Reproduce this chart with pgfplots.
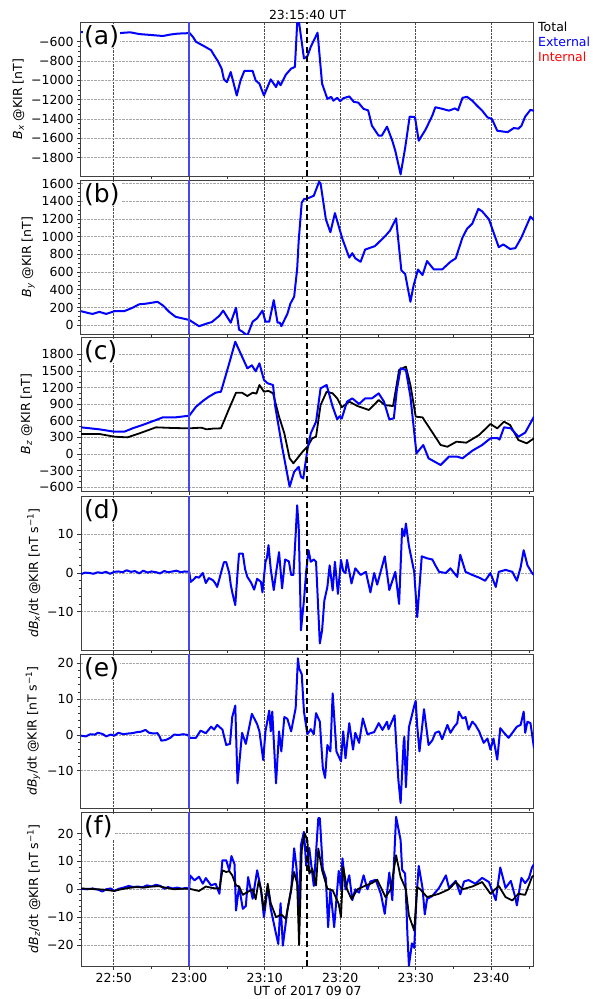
\documentclass[border=0pt]{standalone}
\usepackage{fontspec}
\setmainfont{DejaVu Sans}
\usepackage{pgfplots}
\pgfplotsset{compat=1.18}

\definecolor{extblue}{RGB}{0,0,255}
\definecolor{vblue}{RGB}{70,70,240}
\definecolor{intred}{RGB}{255,0,0}

\newcommand{\lbl}{\fontsize{12.5}{14}\selectfont}

\pgfplotsset{
  panel/.style={
    scale only axis, width=453pt, height=154pt,
    anchor=north west,
    xmin=45.667, xmax=105.667,
    xtick={50,60,70,80,90,100},
    minor xtick={55,65,75,85,95,105},
    xticklabels={},
    xtick pos=bottom, ytick pos=left, tick align=outside,
    major tick length=4pt, minor tick length=2.5pt,
    tick style={black!80, line width=0.8pt},
    axis line style={black!75, line width=1pt},
    xmajorgrids, ymajorgrids,
    x grid style={densely dotted, black!70, line width=0.7pt},
    y grid style={densely dotted, black!35, line width=0.8pt},
    tick label style={font=\lbl},
    label style={font=\lbl},
    clip mode=individual,
    /pgf/number format/1000 sep={},
    /pgf/number format/assume math mode=true,
  },
  ext/.style={extblue, line width=2pt, line join=round},
  tot/.style={black, line width=1.8pt, line join=round},
}

% panel tag, marker lines
\newcommand{\tag}[1]{%
  \node[anchor=north west, fill=white, inner sep=1pt, font=\fontsize{25}{25}\selectfont]
    at ([xshift=2pt,yshift=-2pt]rel axis cs:0,1) {#1};}
\newcommand{\vblueline}{\draw[color=vblue, line width=1.6pt] (axis cs:60,\pgfkeysvalueof{/pgfplots/ymin}) -- (axis cs:60,\pgfkeysvalueof{/pgfplots/ymax});}
\newcommand{\dashline}{\draw[black, line width=2pt, dash pattern=on 6pt off 3.5pt] (rel axis cs:0.5,0) -- (rel axis cs:0.5,1);}

\begin{document}
\begin{tikzpicture}
\path[use as bounding box] (0,0) rectangle (593pt,-999pt);

% (a) Bx
\begin{axis}[panel, at={(81pt,-22pt)},
  ymin=-1990, ymax=-395,
  ytick={-1800,-1600,-1400,-1200,-1000,-800,-600},
  yticklabels={−1800,−1600,−1400,−1200,−1000,−800,−600},
  minor y tick num=3,
  ylabel={{\itshape B}\textsubscript{\itshape x} @KIR [nT]}]
\addplot[ext] coordinates {
(45.67,-500) (47,-505) (48.5,-510) (50.6,-512) (51.5,-505) (52.2,-502) (53.4,-520) (55,-530) (56.5,-540)
(57.5,-525) (58.5,-515) (59.6,-512) (60,-505) (60.5,-550) (60.9,-600) (61.7,-634) (62.3,-660) (62.9,-687)
(63.3,-740) (63.8,-800) (64.3,-880) (64.6,-990) (65.0,-1017) (65.5,-913) (66.3,-1156) (66.8,-1000)
(67.3,-902) (68.4,-902) (68.8,-1000) (69.3,-1034) (69.9,-1156) (70.8,-989) (71.5,-1069) (71.8,-1010)
(72.1,-1050) (72.8,-940) (73.5,-878) (74.0,-860) (74.3,-408) (74.55,-400) (75.2,-773) (75.65,-750)
(76.1,-652) (77.0,-506) (77.6,-1034) (78.3,-1191) (78.8,-1170) (79.1,-1210) (79.6,-1180) (80.0,-1215)
(80.4,-1185) (81.2,-1166) (81.8,-1222) (82.4,-1230) (83.1,-1295) (83.7,-1310) (84.2,-1469) (85.1,-1573)
(85.5,-1573) (86.2,-1479) (86.9,-1625) (87.3,-1730) (88.0,-1973) (88.6,-1700) (89.2,-1375) (89.9,-1380)
(90.4,-1625) (91.3,-1510) (92.2,-1364) (92.6,-1278) (93.3,-1290) (94.4,-1313) (95.2,-1290) (95.6,-1310)
(96.2,-1180) (96.8,-1170) (97.5,-1210) (98.1,-1260) (98.8,-1313) (99.5,-1382) (100.1,-1400) (100.8,-1521)
(101.7,-1531) (102.2,-1535) (103.0,-1493) (103.6,-1500) (104.0,-1470) (104.5,-1375) (105.2,-1305) (105.67,-1315)
};
\vblueline
\dashline
\tag{(a)}
\node[font=\lbl] at ([yshift=7pt]rel axis cs:0.5,1) {23:15:40 UT};
\node[font=\lbl, anchor=west, inner sep=0pt, text=black] at ([xshift=4pt,yshift=-5pt]rel axis cs:1,1) {Total};
\node[font=\lbl, anchor=west, inner sep=0pt, text=extblue] at ([xshift=4pt,yshift=-20pt]rel axis cs:1,1) {External};
\node[font=\lbl, anchor=west, inner sep=0pt, text=intred] at ([xshift=4pt,yshift=-35pt]rel axis cs:1,1) {Internal};
\end{axis}

% (b) By
\begin{axis}[panel, at={(81pt,-180pt)},
  ymin=-100, ymax=1640,
  ytick={0,200,400,600,800,1000,1200,1400,1600},
  yticklabels={0,200,400,600,800,1000,1200,1400,1600},
  minor y tick num=3,
  ylabel={{\itshape B}\textsubscript{\itshape y} @KIR [nT]}]
\addplot[ext] coordinates {
(45.67,158) (46.8,134) (47.2,127) (48.1,150) (49.0,127) (50.1,158) (51.4,158) (52.5,197) (53.4,236)
(54.3,243) (55.8,264) (56.5,224) (57.4,146) (58.2,94) (60,59) (61.3,-12) (62.4,20) (63.0,35) (64.0,106)
(64.5,165) (65.5,28) (66.2,197) (66.6,-51) (67.0,-71) (67.7,-118) (68.4,39) (69.0,78) (69.7,165)
(70.1,39) (70.6,39) (71.2,283) (71.7,28) (72.0,28) (72.2,-12) (73.0,127) (73.4,243) (73.9,322)
(74.3,637) (74.5,952) (74.9,1384) (75.2,1423) (75.65,1431) (76.5,1462) (77.2,1620) (77.4,1600)
(78.1,1196) (78.7,1050) (79.3,1266) (80.3,972) (81.2,763) (81.6,813) (82.0,755) (82.7,716) (83.3,854)
(84.6,893) (86.0,1010) (86.6,1069) (87.4,1207) (88.1,618) (88.6,579) (89.3,264) (89.7,441) (90.3,629)
(90.9,566) (91.5,724) (92.4,629) (93.5,629) (94.6,716) (95.3,755) (96.2,991) (96.8,1089) (97.5,1148)
(98.3,1314) (98.8,1286) (99.7,1196) (100.3,1050) (101.0,881) (101.6,912) (102.5,861) (103.2,870)
(104.0,991) (104.5,1089) (105.2,1226) (105.67,1186)
};
\vblueline
\dashline
\tag{(b)}
\end{axis}

% (c) Bz
\begin{axis}[panel, at={(81pt,-337pt)},
  ymin=-667, ymax=2112,
  ytick={-600,-300,0,300,600,900,1200,1500,1800},
  yticklabels={−600,−300,0,300,600,900,1200,1500,1800},
  minor y tick num=2,
  ylabel={{\itshape B}\textsubscript{\itshape z} @KIR [nT]}]
\addplot[tot] coordinates {
(45.67,362) (48.1,362) (50.1,313) (51.8,301) (53.4,373) (55.6,482) (57.8,470) (60,464) (61.6,476)
(62.3,446) (63.2,460) (64.2,464) (65.3,825) (66.2,1107) (67.0,1107) (67.7,1047) (68.4,1107) (68.9,1090)
(69.3,1246) (69.9,1125) (70.5,1140) (71.1,1095) (71.9,674) (72.6,374) (73.3,-77) (73.8,-167) (74.5,-47)
(75.0,40) (75.65,132) (76.3,284) (76.8,314) (77.4,884) (78.2,1125) (79.0,1095) (79.6,1005) (80.2,843)
(81.2,945) (82.3,866) (83.8,795) (85.1,975) (85.9,884) (87.0,866) (87.8,1517) (88.7,1577) (89.3,1246)
(90.0,674) (90.9,662) (92.0,434) (93.3,163) (94.2,132) (95.4,223) (96.7,205) (98.4,344) (99.9,542)
(100.8,464) (101.7,584) (102.5,524) (103.6,253) (104.7,193) (105.67,284)
};
\addplot[ext] coordinates {
(45.67,482) (48.1,446) (50.1,403) (51.4,403) (52.5,464) (53.8,524) (55.6,614) (56.5,662) (58.2,662)
(60,692) (60.9,854) (61.8,957) (62.6,1035) (63.5,1107) (64.2,1125) (64.4,1215) (65.3,1637) (66.1,2027)
(66.6,1878) (67.7,1547) (68.3,1601) (68.8,1493) (69.3,1637) (69.9,1336) (70.4,1276) (71.1,1246)
(71.4,854) (72.3,132) (73.3,-590) (73.9,-320) (74.5,-230) (74.8,-409) (75.1,-440) (75.65,73) (76.1,374)
(76.8,584) (77.4,1186) (78.2,1246) (79.0,854) (79.6,626) (79.9,680) (80.2,640) (80.9,945) (81.6,1005)
(82.5,903) (83.3,1005) (84.2,1005) (85.1,1095) (85.8,945) (86.5,626) (87.1,644) (87.5,1156) (88.0,1547)
(88.7,1517) (89.3,1035) (90.1,13) (91.0,163) (91.7,-77) (93.3,-198) (94.4,-47) (95.5,-47) (96.2,-77)
(97.5,60) (98.8,163) (99.9,284) (100.8,290) (101.1,260) (101.7,482) (102.6,464) (103.6,313) (104.5,386)
(105.67,674)
};
\vblueline
\dashline
\tag{(c)}
\end{axis}

% (d) dBx/dt
\begin{axis}[panel, at={(81pt,-496pt)},
  ymin=-19.9, ymax=19.9,
  ytick={-10,0,10}, yticklabels={−10,0,10},
  minor y tick num=4,
  ylabel={{\itshape dB}\textsubscript{\itshape x}/dt @KIR [nT s\textsuperscript{−1}]}]
\addplot[ext] coordinates {
(45.67,-0.3) (46.2,0.1) (46.8,0) (47.3,-0.2) (47.9,0.2) (48.4,0) (49.0,0.3) (49.5,-0.2) (50.1,0.3)
(50.6,0.4) (51.2,0.2) (51.7,0.7) (52.3,0.3) (52.8,0.5) (53.4,-0.1) (53.9,0.6) (54.5,0.1) (55.0,0.4)
(55.6,0.2) (56.1,-0.1) (56.7,0.5) (57.2,0.2) (57.8,0.4) (58.3,0.6) (58.9,0.2) (59.4,0.4) (60.0,0.3)
(60.2,-2.3) (60.5,-1.8) (60.9,-1.0) (61.3,-1.2) (61.8,0) (62.2,-2.6) (62.6,-1.3) (63.1,-1.8) (63.4,-2.5)
(63.7,-3.6) (64.0,-1.5) (64.2,0) (64.6,2.8) (64.9,2.8) (65.3,0) (65.5,-3) (65.7,-5) (66.1,-8.3) (66.4,0)
(66.6,5) (67.1,5) (67.4,1) (67.7,-1) (68.2,-2.5) (68.6,-4.3) (69.0,-1.5) (69.5,-2.3) (69.7,-5) (70.1,2.8)
(70.3,4) (70.5,7.2) (70.8,1.0) (71.2,-4.4) (71.5,0) (71.9,5.4) (72.3,-4) (72.7,3.5) (73.2,3) (73.5,-0.5)
(73.8,-0.5) (74.1,10) (74.3,17.5) (74.5,12) (74.7,-5) (74.8,-14.8) (75.2,-7) (75.5,0.5) (75.8,5.9)
(76.1,2.9) (76.5,3.5) (76.8,2.9) (77.3,-18.2) (77.6,-14.8) (77.9,-7.1) (78.3,-3.6) (78.6,2) (79.0,-4.5)
(79.3,2.9) (79.7,-5.4) (80.1,3.4) (80.4,0.5) (80.7,0) (80.9,3.4) (81.5,-2.7) (82.0,1.2) (82.7,-0.5)
(83.4,0.3) (84.0,-5) (84.5,0) (84.9,-3) (85.9,4.3) (86.5,-4.4) (87.3,0.3) (87.8,-8) (88.2,11.5)
(88.5,9.5) (88.7,12.8) (89.1,7) (89.8,0.3) (90.2,-11.4) (90.8,4.3) (91.5,3.8) (92.2,3.5) (92.6,2)
(93.1,0.3) (94.0,0) (94.6,1.2) (95.5,-1) (95.9,4.7) (96.6,0.3) (97.5,-0.5) (98.4,-1.2) (99.2,-2)
(99.9,0) (100.6,-3.6) (101.0,0.3) (101.9,0.8) (102.8,0.3) (103.4,-2) (103.9,1.5) (104.3,5.9)
(104.8,2) (105.4,0) (105.67,-0.5)
};
\vblueline
\dashline
\tag{(d)}
\end{axis}

% (e) dBy/dt
\begin{axis}[panel, at={(81pt,-654pt)},
  ymin=-20.4, ymax=22.6,
  ytick={-10,0,10,20}, yticklabels={−10,0,10,20},
  minor y tick num=4,
  ylabel={{\itshape dB}\textsubscript{\itshape y}/dt @KIR [nT s\textsuperscript{−1}]}]
\addplot[ext] coordinates {
(45.67,-0.2) (46.3,-0.4) (46.9,0.2) (47.5,0.1) (47.9,0.6) (48.5,0.3) (49.0,-0.4) (49.6,0.1) (50.1,-0.2)
(50.6,0.6) (51.3,0.2) (51.9,0.4) (52.5,0.5) (53.1,0.8) (53.6,0.9) (54.2,1.4) (54.7,0.6) (55.3,0.4)
(55.8,0.5) (56.1,-0.5) (56.3,-1.6) (56.9,-1.4) (57.5,-0.8) (58.0,0.1) (58.6,0) (59.2,0.2) (59.8,0)
(60.1,-0.8) (60.9,-0.8) (61.5,1.2) (62.2,0.5) (62.9,2.3) (63.3,1.5) (63.7,2.8) (64.4,1.5) (64.9,-2.8)
(65.4,-2.5) (65.7,5) (66.1,8.2) (66.4,-13.5) (67.0,0.6) (67.5,-2.5) (68.3,5.9) (69.0,3) (69.3,1)
(69.8,-7) (70.1,1) (70.6,6.8) (70.8,1) (71.0,6.5) (71.5,-13.5) (71.9,1) (72.2,-4.6) (72.6,5) (73.0,4.5)
(73.5,1) (74.1,7.5) (74.4,21.4) (74.55,18.6) (74.9,17) (75.2,6.5) (75.65,0.2) (76.1,1.6) (76.5,0.2)
(76.8,6.1) (77.3,3.7) (77.7,-9.3) (78.0,-12) (78.3,-2.8) (78.7,-4.6) (79.0,11.6) (79.5,-4.6) (80.1,-7.4)
(80.4,1) (80.7,-6.5) (81.2,3.3) (81.7,-4.1) (82.0,0.6) (82.5,-2.2) (83.0,4.6) (83.6,0.2) (84.5,0.8)
(85.1,3.3) (85.6,1.4) (86.2,3.7) (86.4,1.6) (87.2,5.5) (87.7,-12.5) (88.0,-19) (88.4,-2) (88.5,-0.5)
(88.7,-14.6) (89.1,2.1) (89.8,8.1) (90.0,9.5) (90.2,2.5) (90.5,-4.6) (91.1,7.2) (91.7,-2.8) (92.2,-1.5)
(92.6,0.6) (93.1,1) (93.5,-1.2) (94.2,2.8) (94.6,0.6) (95.1,2.3) (95.5,3.3) (95.7,6.5) (96.2,4.6)
(96.6,5) (97.0,1.5) (97.5,3.7) (97.9,2.8) (98.4,1) (99.0,-2.2) (99.5,-1) (99.9,-4.1) (100.3,-1)
(100.8,-6.9) (101.2,1.9) (101.7,0.6) (102.3,-0.8) (102.8,0.6) (103.4,2.3) (103.9,2.8) (104.3,6.5)
(104.5,0.6) (104.8,3.7) (105.2,3.3) (105.67,-3.7)
};
\vblueline
\dashline
\tag{(e)}
\end{axis}

% (f) dBz/dt
\begin{axis}[panel, at={(81pt,-812pt)},
  ymin=-27.5, ymax=27.7,
  ytick={-20,-10,0,10,20}, yticklabels={−20,−10,0,10,20},
  minor y tick num=4,
  xticklabels={22:50,23:00,23:10,23:20,23:30,23:40},
  ylabel={{\itshape dB}\textsubscript{\itshape z}/dt @KIR [nT s\textsuperscript{−1}]}]
\addplot[ext] coordinates {
(45.67,0.2) (46.5,0) (47.2,0.3) (48.0,-0.2) (48.5,-0.8) (49.0,0) (49.6,0.3) (50.1,-0.6) (50.7,0.2)
(51.3,0.6) (52.0,1.2) (52.6,0.8) (53.2,1.0) (53.8,0.7) (54.4,1.4) (55.0,1.0) (55.6,1.6) (56.2,1.2)
(56.7,0.2) (57.2,0.8) (57.8,0.3) (58.4,0.6) (59.0,0.2) (59.6,0.5) (60.0,0.2) (60.1,5) (60.7,3.2)
(61.3,4.5) (61.8,2) (62.2,4) (62.9,1.4) (63.5,2) (64.0,-1.6) (64.4,10.4) (64.9,10.4) (65.3,6.8)
(65.6,11.9) (66.0,9) (66.2,-7.6) (66.6,1) (67.1,-7) (67.5,-6) (67.8,4.4) (68.4,-3.4) (69.0,6.8)
(69.5,0) (69.9,-10) (70.4,1) (70.8,-7) (71.5,-16) (71.8,-19.6) (72.1,-5) (72.4,-20.2) (73.0,-7.6)
(73.5,-0.4) (73.9,14.7) (74.2,8) (74.55,-8) (74.8,15.9) (75.2,20.6) (75.5,8.4) (75.9,14.8) (76.2,8)
(76.5,1.2) (77.1,25.5) (77.3,25.5) (77.7,7.2) (78.1,4) (78.4,-13.6) (78.7,0) (79.2,-13.6) (79.8,6.6)
(80.1,0) (80.3,11.1) (80.7,0) (81.2,5) (81.6,-3.9) (82.0,0) (82.5,-1.2) (83.1,5) (83.6,0) (84.0,2.8)
(84.7,3.4) (85.4,-1.8) (85.9,-8.8) (86.5,6) (86.9,-3.9) (87.4,26) (88.0,17.6) (88.2,7) (88.6,5.6)
(88.9,-16.1) (89.1,-27.4) (89.5,-19.4) (89.8,-21) (90.1,-3) (90.4,8.4) (90.9,0.5) (91.2,-9) (91.5,-3.5)
(92.2,-2.4) (93.1,0.5) (94.0,5) (94.4,0.5) (95.3,3) (95.9,-1.8) (96.4,2.8) (97.0,3.3) (97.9,2)
(98.8,4.1) (99.7,2.6) (100.6,-3.9) (101.2,7.8) (101.9,0.5) (102.6,3) (103.2,-3) (103.4,-5.8) (104.0,4.1)
(104.5,2.2) (105.0,4) (105.4,7.8) (105.67,9)
};
\addplot[tot] coordinates {
(45.67,0.3) (47,0.1) (48,0) (49,-0.2) (50,-0.6) (51,0) (52,0.5) (53,0.8) (54,0.6) (55,1) (56,1.1)
(57,0.5) (58,0) (59,0.2) (60,0.2) (61.3,-0.6) (62.2,1) (63.0,0.5) (64.0,0.2) (64.4,6.8) (64.9,6.2)
(65.3,6.5) (65.7,5) (66.2,1.4) (66.6,1) (67.1,-2) (67.7,-1) (68.4,0) (68.8,-3.6) (69.2,3) (69.5,0)
(69.9,-7.6) (70.4,2) (70.8,-5) (71.5,-10) (72.2,-9) (72.8,-10.6) (73.3,-3) (73.9,6.2) (74.3,2)
(74.55,-20) (74.9,14) (75.3,20) (75.65,17.6) (75.9,5.6) (76.3,7.4) (76.8,1.4) (77.1,14.6) (77.6,6.8)
(78.3,0.2) (79.0,-0.4) (79.8,-5.2) (80.1,-10) (80.4,8) (80.9,0) (81.5,-3.5) (82.3,0) (83.4,1.4)
(84.2,2.2) (84.9,3.4) (86.0,-2.8) (86.7,0) (87.4,12.2) (88.0,4.4) (88.7,0) (89.1,-9.4) (89.8,-14.8)
(90.2,0.8) (90.6,0) (91.5,-2.8) (93.1,-1.6) (94.4,0) (95.3,2.6) (96.2,0) (97.5,1) (98.8,2.6)
(99.9,-1.6) (101.0,1.2) (101.9,-2.8) (102.8,-4) (103.6,-1.6) (104.5,-2) (105.4,4.4) (105.67,5)
};
\vblueline
\dashline
\tag{(f)}
\node[font=\lbl] at ([yshift=-25pt]rel axis cs:0.5,0) {UT of 2017 09 07};
\end{axis}
\end{tikzpicture}
\end{document}
